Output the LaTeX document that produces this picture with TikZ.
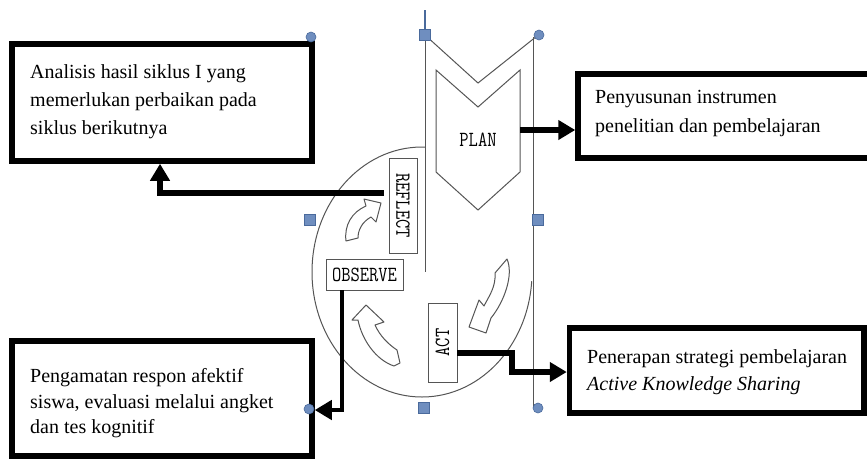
\documentclass[tikz,border=0pt]{standalone}
\usepackage{fontspec}
\usepackage{graphicx}
\setmainfont{Liberation Serif}
\usetikzlibrary{arrows.meta}
\definecolor{hdl}{HTML}{6F8EBF}
\definecolor{hdlb}{HTML}{4A6A9C}
\definecolor{lgray}{HTML}{555555}
\begin{document}
\begin{tikzpicture}[x=1pt,y=-1pt,
  box/.style={draw=black, line width=5.5pt, rectangle, inner sep=0pt, fill=white},
  txt/.style={align=left, inner sep=0pt, anchor=north west, text=black},
  lab/.style={draw=lgray, line width=0.9pt, fill=white, rectangle, inner sep=0pt, font=\ttfamily\fontsize{18}{18}\selectfont, text=black},
  conn/.style={line width=5.2pt, -{Triangle[length=17pt,width=19pt]}},
  carrow/.style={draw=lgray, line width=1pt, fill=white, line join=round},
  thin/.style={draw=lgray, line width=1pt},
  hsq/.style={rectangle, draw=hdlb, fill=hdl, minimum size=10.5pt, inner sep=0pt, line width=0.6pt},
  hci/.style={circle, draw=hdlb, fill=hdl, minimum size=10pt, inner sep=0pt, line width=0.6pt}]
\useasboundingbox (0,0) rectangle (867,459);
\clip (0,0) rectangle (867,459);
\fill[white] (0,0) rectangle (867,459);

% cycle circle
\draw[thin] (422,272) ellipse [x radius=110pt, y radius=125pt];
% outer chevron frame (covers part of circle)
\fill[white] (425,35) -- (478,83) -- (533,35) -- (533,281) -- (425,281) -- cycle;
\draw[thin] (425,35) -- (425,272);
\draw[thin] (533,37) -- (533,408);
\draw[thin] (425,35) -- (478,83) -- (537,36);
\draw[draw=hdlb, line width=1.2pt] (425,10) -- (425,35);

% PLAN chevron
\draw[thin, line join=miter] (436,70) -- (478,107) -- (520,70) -- (520,172) -- (478,210) -- (436,172) -- cycle;
\node[inner sep=0pt, font=\ttfamily\fontsize{18}{18}\selectfont, text=black] (plan) at (478,140) {\scalebox{1}[1.2]{PLAN}};
\coordinate (planout) at (520,130);

% curved cycle arrows
\draw[carrow] (346,241) .. controls (344,225) and (352,212) .. (366,206) -- (364,199) -- (381,203) -- (376,222) -- (371,217) .. controls (362,222) and (358,230) .. (358,238) -- cycle;
\draw[carrow] (495,273) -- (507,259) .. controls (514,275) and (504,302) .. (491,318) -- (486,333) -- (469,327) -- (479,300) -- (484,306) .. controls (489,296) and (496,287) .. (495,273) -- cycle;
\draw[carrow] (366,305) -- (352,320) -- (358,320) .. controls (362,340) and (376,360) .. (394,366) -- (400,363) -- (397,350) .. controls (388,344) and (380,336) .. (375,325) -- (384,322) -- cycle;

% stage labels
\node[lab, minimum width=95pt, minimum height=28pt, rotate=-90] (reflect) at (403,205.5) {\scalebox{1}[1.2]{REFLECT}};
\node[lab, minimum width=77pt, minimum height=31pt] (observe) at (364.5,274.5) {\scalebox{1}[1.2]{OBSERVE}};
\node[lab, minimum width=79pt, minimum height=29pt, rotate=90] (act) at (442.5,342.5) {\scalebox{1}[1.2]{ACT}};
\coordinate (rfout) at (384,193);
\coordinate (actout) at (457,353);

% outcome boxes
\node[box, minimum width=300pt, minimum height=117pt] (tlbox) at (162,102.5) {};
\node[box, minimum width=294pt, minimum height=84pt] (trbox) at (725,116) {};
\node[box, minimum width=300pt, minimum height=115pt] (blbox) at (162,398.5) {};
\node[box, minimum width=294.5pt, minimum height=85pt] (brbox) at (716.75,370.5) {};

\node[txt, font=\fontsize{20}{28}\selectfont] (tltext) at (30,64.3) {Analisis hasil siklus I yang\\memerlukan perbaikan pada\\siklus berikutnya};
\node[txt, font=\fontsize{20}{29}\selectfont] (trtext) at (595,90.3) {Penyusunan instrumen\\penelitian dan pembelajaran};
\node[txt, font=\fontsize{20}{25.5}\selectfont] (bltext) at (30,368.3) {Pengamatan respon afektif\\siswa, evaluasi melalui angket\\dan tes kognitif};
\node[txt, font=\fontsize{20}{27}\selectfont] (brtext) at (587,349.3) {Penerapan strategi pembelajaran\\\textit{Active Knowledge Sharing}};

% connectors
\draw[conn] (planout) -- (planout -| trbox.west);
\draw[conn] (rfout) -| ([xshift=-2pt]tlbox.south);
\draw[conn, line width=4.6pt] ([xshift=-22.5pt]observe.south) |- ([yshift=-11.5pt]blbox.east);
\draw[conn] (actout) -- ++(55,0) |- ([yshift=-1.5pt]brbox.west);

% selection handles
\node[hsq] (h1) at (425,35) {};
\node[hsq] (h2) at (310,220) {};
\node[hsq] (h3) at (538,220) {};
\node[hsq] (h4) at (424,408) {};
\node[hci] (h5) at (311,37) {};
\node[hci] (h6) at (539,35) {};
\node[hci] (h7) at (309,409) {};
\node[hci] (h8) at (538,408) {};
\end{tikzpicture}
\end{document}
